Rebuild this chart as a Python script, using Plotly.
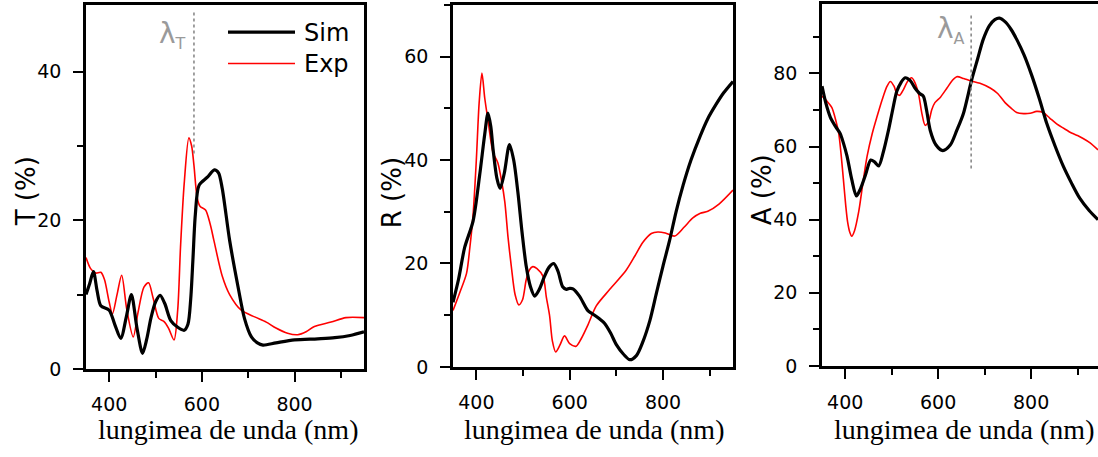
import plotly.graph_objects as go

# ---------------- data (wavelength in nm, values in %) ----------------
T_sim_wl = [350, 358, 366, 374, 382, 400, 412, 425, 437, 448, 460, 472, 481, 490, 500, 510, 520,
            533, 548, 562, 570, 576, 581, 586, 594, 612, 627, 636, 644, 660, 678, 692, 707, 720,
            732, 760, 800, 850, 887, 920, 950]
T_sim = [10.0, 11.5, 13.1, 10.5, 8.5, 7.9, 6.0, 4.1, 7.0, 10.0, 5.5, 2.1, 4.0, 6.8, 9.0, 9.9, 8.8,
         6.5, 5.6, 5.2, 6.0, 9.4, 15.0, 20.8, 24.7, 25.8, 26.8, 26.4, 24.3, 17.3, 11.1, 6.8, 4.3, 3.5,
         3.2, 3.5, 3.9, 4.05, 4.2, 4.5, 5.0]

T_exp_wl = [350, 360, 371, 382, 390, 400, 407, 417, 427, 438, 452, 462, 475, 485, 495, 507, 518,
            528, 540, 548, 554, 562, 572, 578, 583, 590, 596, 608, 618, 626, 644, 660, 685, 714,
            739, 760, 785, 807, 825, 843, 879, 911, 950]
T_exp = [15.0, 13.5, 12.9, 13.0, 12.0, 9.0, 7.4, 10.0, 12.6, 8.0, 4.3, 7.5, 11.0, 11.6, 9.5, 6.8, 6.4,
         5.5, 3.9, 8.0, 16.4, 25.0, 31.1, 30.0, 27.4, 23.0, 21.9, 21.4, 19.5, 17.3, 12.5, 10.0, 7.9, 7.0,
         6.3, 5.5, 4.8, 4.6, 5.0, 5.7, 6.3, 6.9, 6.9]

R_sim_wl = [350, 362, 375, 393, 407, 418, 425, 431, 436, 444, 451, 460, 471, 480, 489, 498, 507, 516,
            525, 535, 546, 556, 566, 575, 585, 593, 600, 607, 621, 639, 650, 665, 675, 688, 700, 715,
            729, 743, 757, 772, 786, 800, 814, 828, 843, 860, 879, 896, 914, 930, 950]
R_sim = [12.5, 17.0, 23.1, 28.2, 37.0, 45.0, 49.1, 46.5, 42.0, 36.5, 34.5, 37.5, 43.0, 40.0, 33.8, 26.0,
         19.4, 15.5, 13.7, 15.0, 17.5, 19.3, 20.0, 18.5, 15.5, 15.0, 15.2, 15.1, 13.7, 10.9, 10.2, 9.2,
         8.4, 6.5, 4.3, 2.5, 1.4, 2.2, 4.9, 9.0, 14.3, 19.5, 24.4, 30.0, 35.1, 40.0, 44.5, 48.0, 50.8,
         53.0, 55.2]

R_exp_wl = [350, 365, 379, 386, 393, 400, 406, 412, 418, 425, 436, 446, 454, 461, 468, 475, 483, 491,
            499, 507, 514, 521, 530, 543, 550, 557, 563, 570, 579, 589, 600, 614, 625, 639, 657, 686,
            721, 740, 757, 775, 789, 805, 825, 845, 864, 880, 896, 920, 950]
R_exp = [10.9, 14.5, 18.1, 23.0, 29.4, 40.0, 51.0, 56.8, 52.0, 47.7, 41.4, 39.5, 36.0, 31.9, 25.0, 19.4,
         14.0, 12.0, 13.0, 16.9, 18.8, 19.4, 19.0, 17.5, 13.5, 9.9, 5.0, 2.9, 4.2, 6.0, 4.5, 4.0, 5.5,
         8.1, 11.8, 15.0, 18.7, 21.5, 24.1, 25.8, 26.1, 25.9, 25.3, 27.0, 28.8, 29.7, 30.1, 31.5, 34.2]

A_sim_wl = [350, 358, 368, 379, 389, 396, 404, 414, 424, 433, 443, 455, 463, 472, 482, 493, 502, 511,
            520, 529, 540, 550, 560, 568, 575, 583, 595, 610, 626, 640, 654, 672, 685, 697, 710, 722,
            732, 745, 757, 769, 785, 801, 818, 834, 852, 869, 887, 905, 925, 944]
A_sim = [76.5, 72.0, 68.0, 65.5, 63.6, 61.0, 57.3, 51.0, 46.5, 48.5, 52.0, 56.3, 55.8, 54.7, 58.5, 64.4,
         70.0, 75.1, 77.5, 78.8, 78.0, 76.0, 74.5, 73.8, 70.0, 64.4, 60.5, 58.9, 60.4, 64.4, 68.9, 78.2,
         84.0, 89.3, 93.0, 94.7, 95.1, 94.0, 92.0, 89.3, 85.0, 79.6, 73.0, 66.2, 60.0, 54.7, 50.0, 45.8,
         42.5, 40.0]

A_exp_wl = [350, 360, 371, 380, 386, 391, 396, 401, 405, 410, 414, 420, 429, 438, 447, 458, 468, 480,
            490, 497, 505, 511, 517, 525, 535, 543, 550, 558, 565, 572, 580, 586, 593, 605, 619, 630,
            640, 655, 669, 690, 712, 728, 744, 757, 769, 784, 798, 812, 826, 840, 855, 870, 887, 900,
            912, 927, 944]
A_exp = [73.8, 72.5, 70.7, 67.0, 63.6, 58.0, 51.1, 44.0, 39.5, 36.5, 35.5, 37.0, 42.2, 50.0, 57.3, 63.5,
         68.0, 73.0, 76.5, 77.8, 76.5, 74.5, 74.0, 75.5, 78.0, 78.8, 77.5, 74.2, 69.0, 65.8, 67.0, 70.0,
         72.0, 73.5, 76.0, 78.0, 79.1, 78.6, 78.0, 77.3, 76.0, 74.5, 72.0, 70.5, 69.3, 69.0, 69.1, 69.6,
         69.3, 67.8, 66.2, 65.0, 63.7, 63.0, 62.2, 61.0, 59.1]

# characteristic wavelengths marked with dotted lines
lambda_T = 583
lambda_A = 671

W, H = 1098, 457


def px(x):
    return x / W


def py(y):
    return 1 - y / H


SANS = "DejaVu Sans"
SERIF = "Liberation Serif"

fig = go.Figure()

panels = [
    # (sim_x, sim_y, exp_x, exp_y, xaxis, yaxis)
    (T_sim_wl, T_sim, T_exp_wl, T_exp, "x", "y"),
    (R_sim_wl, R_sim, R_exp_wl, R_exp, "x2", "y2"),
    (A_sim_wl, A_sim, A_exp_wl, A_exp, "x3", "y3"),
]
for sx, sy, ex, ey, xa, ya in panels:
    fig.add_trace(go.Scatter(x=ex, y=ey, mode="lines", name="Exp", xaxis=xa, yaxis=ya,
                             line=dict(color="#ff0000", width=1.6, shape="spline", smoothing=0.8),
                             showlegend=False))
    fig.add_trace(go.Scatter(x=sx, y=sy, mode="lines", name="Sim", xaxis=xa, yaxis=ya,
                             line=dict(color="#000000", width=3.2, shape="spline", smoothing=0.8),
                             showlegend=False))


def xaxis(domain, rng, anchor):
    return dict(domain=domain, range=rng, anchor=anchor, showline=True, linecolor="black",
                linewidth=2.5, mirror=True, ticks="outside", ticklen=10, tickwidth=2,
                tickcolor="black", tick0=400, dtick=200, showgrid=False, zeroline=False,
                ticklabelstandoff=7,
                minor=dict(ticks="outside", ticklen=6, tickwidth=2, tickcolor="black",
                           tick0=400, dtick=100, showgrid=False),
                tickfont=dict(family=SANS, size=19, color="black"))


def yaxis(domain, rng, anchor, mirror=True):
    return dict(domain=domain, range=rng, anchor=anchor, showline=True, linecolor="black",
                linewidth=2.5, mirror=mirror, ticks="outside", ticklen=10, tickwidth=2,
                tickcolor="black", tick0=0, dtick=20, showgrid=False, zeroline=False,
                ticklabelstandoff=8,
                minor=dict(ticks="outside", ticklen=6, tickwidth=2, tickcolor="black",
                           tick0=0, dtick=10, showgrid=False),
                tickfont=dict(family=SANS, size=19, color="black"))


fig.update_layout(
    width=W, height=H, autosize=False,
    margin=dict(l=0, r=0, t=0, b=0),
    paper_bgcolor="white", plot_bgcolor="white",
    xaxis=xaxis([px(86), px(364)], [350, 950], "y"),
    yaxis=yaxis([py(378), py(5)], [0, 49], "x"),
    xaxis2=xaxis([px(453), px(733)], [350, 950], "y2"),
    yaxis2=yaxis([py(376), py(5)], [0, 70], "x2"),
    xaxis3=xaxis([px(822), 1.0], [350, 944], "y3"),
    yaxis3=yaxis([py(375), py(4)], [0, 99], "x3", mirror=False),
)

# dotted marker lines
fig.add_shape(type="line", xref="x", yref="y", x0=lambda_T, x1=lambda_T, y0=29, y1=48,
              line=dict(color="#8a8a8a", width=1.6, dash="dot"))
fig.add_shape(type="line", xref="x3", yref="y3", x0=lambda_A, x1=lambda_A, y0=54, y1=96,
              line=dict(color="#8a8a8a", width=1.6, dash="dot"))

LAMBDA_FONT = dict(family=SANS, size=28, color="#9a9a9a")
annotations = [
    dict(text="λ<sub><span style='font-size:16px'>T</span></sub>", x=lambda_T, y=45.0,
         xref="x", yref="y", xanchor="right", yanchor="middle", xshift=-6, showarrow=False,
         font=LAMBDA_FONT),
    dict(text="λ<sub><span style='font-size:16px'>A</span></sub>", x=lambda_A, y=91.8,
         xref="x3", yref="y3", xanchor="right", yanchor="middle", xshift=-4, showarrow=False,
         font=LAMBDA_FONT),
]

# axis titles
for label, xc, yc in [("T (%)", 26, 196), ("R (%)", 392, 198), ("A (%)", 762, 195)]:
    annotations.append(dict(text=label, x=px(xc), y=py(yc), xref="paper", yref="paper",
                            textangle=-90, showarrow=False, xanchor="center", yanchor="middle",
                            font=dict(family=SANS, size=26, color="black")))
for xc in [228, 594, 964]:
    annotations.append(dict(text="lungimea de unda (nm)", x=px(xc), y=py(440), xref="paper",
                            yref="paper", showarrow=False, xanchor="center", yanchor="middle",
                            font=dict(family=SERIF, size=28, color="black")))

# legend (first panel)
fig.add_shape(type="line", xref="paper", yref="paper", x0=px(228), x1=px(295), y0=py(33), y1=py(33),
              line=dict(color="black", width=3.2))
fig.add_shape(type="line", xref="paper", yref="paper", x0=px(228), x1=px(295), y0=py(65), y1=py(65),
              line=dict(color="#ff0000", width=1.6))
for label, yc in [("Sim", 34), ("Exp", 66)]:
    annotations.append(dict(text=label, x=px(302), y=py(yc), xref="paper", yref="paper",
                            showarrow=False, xanchor="left", yanchor="middle",
                            font=dict(family=SANS, size=24, color="black")))

fig.update_layout(annotations=annotations)

fig.write_html("out.html")
